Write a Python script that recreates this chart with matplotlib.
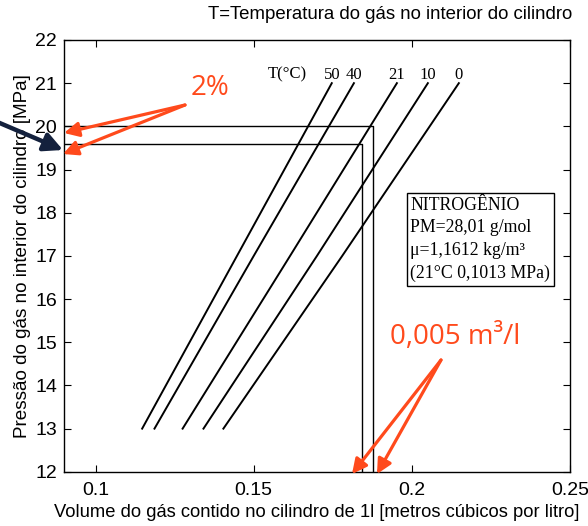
import numpy as np
import matplotlib.pyplot as plt
from matplotlib.patches import FancyArrowPatch

# isotermas do nitrogenio: pressao (MPa) x volume (m3 por litro)
pressure = [13, 17, 21]
temps = ['50', '40', '21', '10', '0']
vol_50 = [0.1147, 0.1447, 0.1747]
vol_40 = [0.1186, 0.1500, 0.1817]
vol_21 = [0.1275, 0.1615, 0.1953]
vol_10 = [0.1341, 0.1700, 0.2051]
vol_0 = [0.1404, 0.1780, 0.2149]
curves = [vol_50, vol_40, vol_21, vol_10, vol_0]

# linhas de referencia (pressao cheia e -2%)
ref_p = [20.0, 19.6]
ref_v = [0.1877, 0.1842]

xticks = [0.1, 0.15, 0.2, 0.25]
yticks = list(range(12, 23))

sans = 'Liberation Sans'
serif = 'Liberation Serif'
red = '#ff4a1c'
navy = '#14213d'

fig = plt.figure(figsize=(5.88, 5.26), dpi=100)
ax = fig.add_axes([0.109, 0.103, 0.86, 0.821])

for v in curves:
    ax.plot(v, pressure, color='black', lw=1.4)

for p, v in zip(ref_p, ref_v):
    ax.plot([0.09, v, v], [p, p, 12], color='black', lw=1.0)

ax.set_xlim(0.09, 0.25)
ax.set_ylim(12, 22)
ax.set_xticks(xticks)
ax.set_xticklabels(['0.1', '0.15', '0.2', '0.25'])
ax.set_yticks(yticks)
ax.tick_params(direction='in', top=True, right=True, length=5, labelsize=14, pad=5)
ax.tick_params(axis='x', pad=7)
for lab in ax.get_xticklabels() + ax.get_yticklabels():
    lab.set_family(sans)
for s in ax.spines.values():
    s.set_linewidth(1.0)

ax.set_xlabel('Volume do gás contido no cilindro de 1l [metros cúbicos por litro]',
              fontsize=13.2, family=sans, labelpad=4)
ax.set_ylabel('Pressão do gás no interior do cilindro [MPa]',
              fontsize=13.6, family=sans, labelpad=3)
fig.text(0.973, 0.972, 'T=Temperatura do gás no interior do cilindro',
         ha='right', va='center', fontsize=13.4, family=sans)

# rotulos das isotermas
ax.text(0.1605, 21.2, 'T(°C)', ha='center', va='center', fontsize=12, family=serif)
for t, v in zip(temps, curves):
    ax.text(v[-1], 21.2, t, ha='center', va='center', fontsize=12, family=serif)

ax.text(0.1995, 17.38,
        'NITROGÊNIO\nPM=28,01 g/mol\nμ=1,1612 kg/m³\n(21°C 0,1013 MPa)',
        ha='left', va='center', fontsize=12.8, family=serif, linespacing=1.45,
        bbox=dict(boxstyle='square,pad=0.2', fc='white', ec='black', lw=1.0))

# anotacoes
fig.text(210, 438, '2%', transform=None, ha='center', va='center',
         fontsize=20, color=red, family='Open Sans')
for tip in [(64, 393), (63, 372)]:
    fig.add_artist(FancyArrowPatch(
        (185, 421), tip, transform=None, arrowstyle='-|>', mutation_scale=22,
        color=red, lw=2.3, shrinkA=0, shrinkB=0))

fig.add_artist(FancyArrowPatch(
    (-5, 405), (63, 376), transform=None, arrowstyle='-|>', mutation_scale=28,
    color=navy, lw=3.2, shrinkA=0, shrinkB=0))

fig.text(455, 189, '0,005 m³/l', transform=None, ha='center', va='center',
         fontsize=20, color=red, family='Open Sans')
for tip in [(352, 52), (377, 52)]:
    fig.add_artist(FancyArrowPatch(
        (441, 166), tip, transform=None, arrowstyle='-|>', mutation_scale=22,
        color=red, lw=2.3, shrinkA=0, shrinkB=0))

fig.savefig('out.png', dpi=100)
